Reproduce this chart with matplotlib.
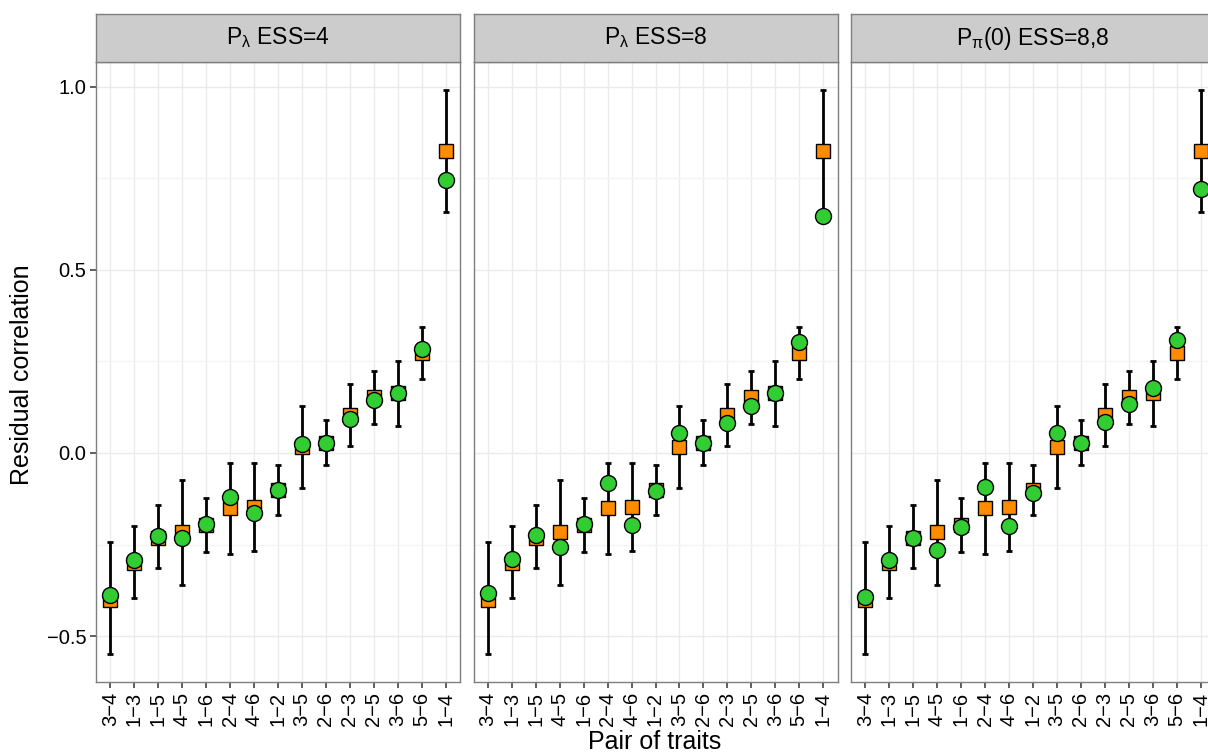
import matplotlib
matplotlib.use('Agg')
import matplotlib.pyplot as plt
import numpy as np

plt.rcParams['font.family'] = ['Liberation Sans', 'DejaVu Sans']
plt.rcParams['mathtext.fontset'] = 'custom'
plt.rcParams['mathtext.rm'] = 'Liberation Sans'
plt.rcParams['mathtext.it'] = 'Liberation Sans'

pairs = ['3-4', '1-3', '1-5', '4-5', '1-6', '2-4', '4-6', '1-2',
         '3-5', '2-6', '2-3', '2-5', '3-6', '5-6', '1-4']

# orange squares + interval (same in every panel)
est = [-0.400, -0.300, -0.232, -0.215, -0.196, -0.151, -0.148, -0.101,
       0.015, 0.028, 0.104, 0.153, 0.164, 0.273, 0.824]
lower = [-0.548, -0.395, -0.315, -0.361, -0.270, -0.277, -0.268, -0.169,
         -0.096, -0.032, 0.019, 0.079, 0.074, 0.202, 0.657]
upper = [-0.243, -0.198, -0.142, -0.075, -0.122, -0.026, -0.028, -0.033,
         0.128, 0.090, 0.187, 0.224, 0.252, 0.344, 0.990]

# green circles, one series per panel
fit_p1 = [-0.387, -0.292, -0.226, -0.233, -0.193, -0.120, -0.165, -0.102,
          0.025, 0.028, 0.094, 0.144, 0.165, 0.283, 0.746]
fit_p2 = [-0.381, -0.289, -0.223, -0.257, -0.195, -0.081, -0.197, -0.104,
          0.054, 0.027, 0.081, 0.128, 0.165, 0.302, 0.648]
fit_p3 = [-0.394, -0.292, -0.233, -0.264, -0.202, -0.093, -0.200, -0.110,
          0.054, 0.028, 0.085, 0.133, 0.178, 0.308, 0.721]

titles = [r'$\mathregular{P_{\lambda}}$ ESS=4',
          r'$\mathregular{P_{\lambda}}$ ESS=8',
          r'$\mathregular{P_{\pi}(0)}$ ESS=8,8']
fits = [fit_p1, fit_p2, fit_p3]

W, H = 1208, 755
fig = plt.figure(figsize=(W / 100, H / 100), dpi=100)

lefts = [96, 473.5, 851]
pw = 364
ptop, pbot = 62, 682
stop = 14

x = np.arange(len(pairs))
est = np.array(est)
lower = np.array(lower)
upper = np.array(upper)
labels = [p.replace('-', '\u2212') for p in pairs]

for i, left in enumerate(lefts):
    ax = fig.add_axes([left / W, (H - pbot) / H, pw / W, (pbot - ptop) / H])
    ax.set_xlim(-0.6, len(pairs) - 0.4)
    ax.set_ylim(-0.625, 1.067)
    ax.set_yticks([-0.5, 0.0, 0.5, 1.0])
    ax.set_yticks([-0.25, 0.25, 0.75], minor=True)
    ax.set_xticks(x)
    ax.set_xticklabels(labels, rotation=90)
    ax.grid(True, which='major', color='#EBEBEB', lw=1.0)
    ax.grid(True, which='minor', axis='y', color='#F4F4F4', lw=1.0)
    ax.set_axisbelow(True)
    for s in ax.spines.values():
        s.set_color('#7F7F7F')
        s.set_linewidth(1.0)
    ax.tick_params(which='major', length=4, width=1.1, color='#333333',
                   labelsize=14.5, pad=3)
    ax.tick_params(which='minor', length=0)
    if i == 0:
        ax.set_yticklabels(['\u22120.5', '0.0', '0.5', '1.0'])
    else:
        ax.set_yticklabels([])
        ax.tick_params(axis='y', which='major', length=0)

    ax.errorbar(x, est, yerr=[est - lower, upper - est], fmt='none',
                ecolor='black', elinewidth=2, capsize=2.2, capthick=2, zorder=3)
    ax.plot(x, est, 's', ms=10, mfc='#FF8C00', mec='black', mew=1, zorder=4)
    ax.plot(x, fits[i], 'o', ms=11.5, mfc='#32CD32', mec='black', mew=1, zorder=5)

    sax = fig.add_axes([left / W, (H - ptop) / H, pw / W, (ptop - stop) / H])
    sax.set_facecolor('#CCCCCC')
    sax.set_xticks([])
    sax.set_yticks([])
    for s in sax.spines.values():
        s.set_color('#7F7F7F')
        s.set_linewidth(1.0)
    sax.text(0.5, 0.5, titles[i], ha='center', va='center', fontsize=16.5,
             transform=sax.transAxes)

fig.text(22 / W, 1 - 375 / H, 'Residual correlation', rotation=90,
         ha='center', va='center', fontsize=18)
fig.text(655 / W, 1 - 742 / H, 'Pair of traits', ha='center', va='center',
         fontsize=18)

fig.savefig('out.png', dpi=100)
